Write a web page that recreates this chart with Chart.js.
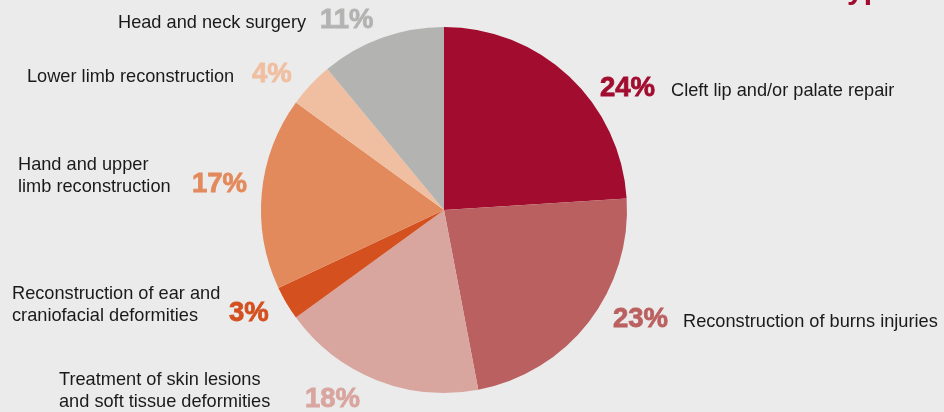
<!DOCTYPE html>
<html>
<head>
<meta charset="utf-8">
<script src="https://cdn.jsdelivr.net/npm/chart.js@4.4.1/dist/chart.umd.min.js"></script>
<style>
  html, body { margin: 0; padding: 0; background: #EBEBEB; }
  #wrap { width: 944px; height: 412px; position: relative; }
</style>
</head>
<body>
<div id="wrap"><canvas id="c" width="944" height="412"></canvas></div>
<script>
// ---- data ----
const categories = [
  "Cleft lip and/or palate repair",
  "Reconstruction of burns injuries",
  "Treatment of skin lesions\nand soft tissue deformities",
  "Reconstruction of ear and\ncraniofacial deformities",
  "Hand and upper\nlimb reconstruction",
  "Lower limb reconstruction",
  "Head and neck surgery"
];
const values = [24, 23, 18, 3, 17, 4, 11];
const colors = ["#A20C2F", "#BB6060", "#D9A59F", "#D4501F", "#E38A5C", "#F0BFA1", "#B3B3B2"];
const titleText = "type";

// ---- label layout (positions only) ----
const labelLayout = [
  { pct: [600, 96], txt: [671, 96] },
  { pct: [613, 327], txt: [683, 327] },
  { pct: [305, 407], txt: [59, 407] },
  { pct: [229, 321], txt: [12, 321] },
  { pct: [192, 192], txt: [18, 192] },
  { pct: [252, 82], txt: [27, 82] },
  { pct: [320, 28], txt: [118, 28] }
];

const labelPlugin = {
  id: 'labels',
  afterDraw(chart) {
    const ctx = chart.ctx;
    ctx.save();
    ctx.textAlign = 'left';
    ctx.textBaseline = 'alphabetic';
    // partially visible title at top-right (cut off by the frame)
    ctx.fillStyle = '#A20C2F';
    ctx.font = 'bold 30px "Liberation Sans", Arial, sans-serif';
    ctx.fillText(titleText, 837, -1);
    categories.forEach((cat, i) => {
      const L = labelLayout[i];
      ctx.font = 'bold 27.5px "Liberation Sans", Arial, sans-serif';
      ctx.fillStyle = colors[i];
      ctx.strokeStyle = colors[i];
      ctx.lineWidth = 0.8;
      ctx.fillText(values[i] + '%', L.pct[0], L.pct[1]);
      ctx.strokeText(values[i] + '%', L.pct[0], L.pct[1]);
      ctx.font = '18.2px "Liberation Sans", Arial, sans-serif';
      ctx.fillStyle = '#1A1A1A';
      const lines = cat.split('\n');
      const lh = 22;
      lines.forEach((ln, j) => {
        ctx.fillText(ln, L.txt[0], L.txt[1] - (lines.length - 1 - j) * lh);
      });
    });
    ctx.restore();
  }
};

new Chart(document.getElementById('c'), {
  type: 'pie',
  data: {
    labels: categories,
    datasets: [{
      data: values,
      backgroundColor: colors,
      borderWidth: 0,
      hoverOffset: 0,
      offset: 0
    }]
  },
  options: {
    responsive: false,
    animation: false,
    events: [],
    layout: { padding: { left: 261, right: 317, top: 27, bottom: 19 } },
    plugins: {
      legend: { display: false },
      tooltip: { enabled: false },
      title: { display: false }
    }
  },
  plugins: [labelPlugin]
});
</script>
</body>
</html>
